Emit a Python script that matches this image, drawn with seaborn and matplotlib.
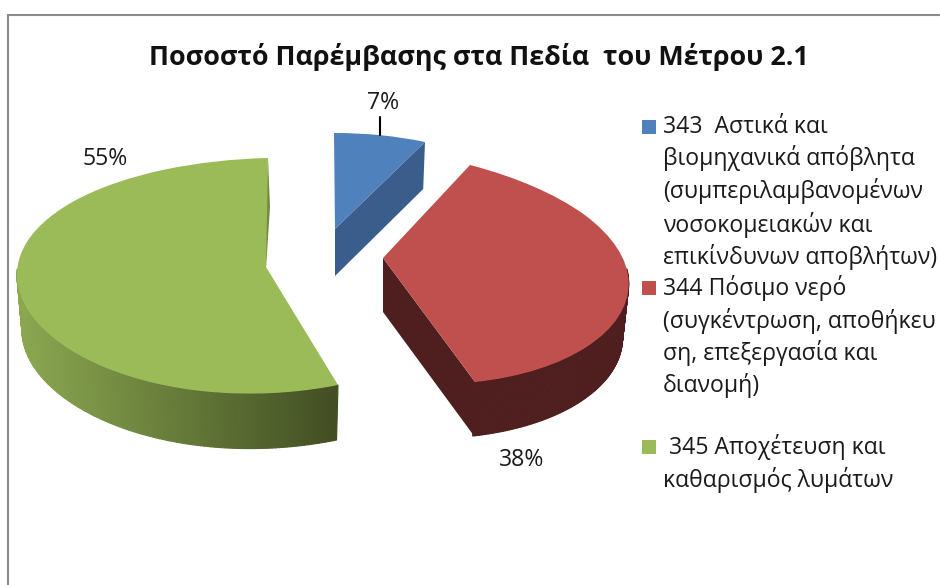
import numpy as np
import matplotlib
matplotlib.use("Agg")
import matplotlib.pyplot as plt
import matplotlib.transforms as mtransforms
from matplotlib.collections import PolyCollection
from matplotlib.colors import to_rgb
import seaborn as sns

# ---- data ----
title = "Ποσοστό Παρέμβασης στα Πεδία  του Μέτρου 2.1"
codes = ["343", "344", "345"]
shares = [7, 38, 55]
legend_lines = [
    ["343  Αστικά και", "βιομηχανικά απόβλητα", "(συμπεριλαμβανομένων",
     "νοσοκομειακών και", "επικίνδυνων αποβλήτων)"],
    ["344 Πόσιμο νερό", "(συγκέντρωση, αποθήκευ", "ση, επεξεργασία και", "διανομή)"],
    [" 345 Αποχέτευση και", "καθαρισμός λυμάτων"],
]
colors = ["#4F81BD", "#C0504D", "#9BBB59"]

# ---- style ----
sns.set_theme(style="white")
FONT = "Open Sans"
plt.rcParams["font.family"] = [FONT, "DejaVu Sans"]
palette = sns.color_palette(colors)
TXT = "#1a1a1a"

# ---- projection of the unit pie onto the tilted, exploded picture ----
class Warp(mtransforms.Transform):
    input_dims = output_dims = 2
    is_separable = False
    has_inverse = False

    def __init__(self, apex, cx, cy):
        super().__init__()
        self.apex, self.cx, self.cy = apex, cx, cy

    def transform_non_affine(self, v):
        v = np.asarray(v, float)
        f = np.column_stack([v[:, 0], v[:, 1], v[:, 1] ** 2])
        return np.column_stack([self.apex[0] + f @ self.cx, self.apex[1] + f @ self.cy])


def fit_warp(apex, anchors):
    a = np.array([[np.cos(np.radians(t)), np.sin(np.radians(t))] for t, _ in anchors])
    p = np.array([q for _, q in anchors], float) - np.array(apex, float)
    if len(anchors) == 3:
        f = np.column_stack([a[:, 0], a[:, 1], a[:, 1] ** 2])
        cx, cy = np.linalg.solve(f, p[:, 0]), np.linalg.solve(f, p[:, 1])
    else:
        f = a
        cx, cy = np.append(np.linalg.solve(f, p[:, 0]), 0), np.append(np.linalg.solve(f, p[:, 1]), 0)
    return Warp(apex, cx, cy)


fig, ax = plt.subplots(figsize=(9.4, 5.85), dpi=100)
fig.subplots_adjust(0, 0, 1, 1)

wedges, _ = ax.pie(shares, colors=palette, startangle=90, counterclock=False, radius=1,
                   wedgeprops=dict(linewidth=0))
ax.set_aspect("auto")
ax.set_xlim(0, 940)
ax.set_ylim(585, 0)
ax.axis("off")

blue, red, green = wedges
warps = [
    fit_warp((335, 229), [(blue.theta2, (334, 133)), (blue.theta1, (425, 142))]),
    fit_warp((383, 258), [(red.theta2, (470, 165)), (0, (628, 275)), (red.theta1, (475, 382))]),
    fit_warp((266, 267), [(green.theta1, (268, 158)), (180, (17, 273)), (green.theta2, (338, 385))]),
]
for w, tr in zip(wedges, warps):
    w.set_transform(tr + ax.transData)
    w.set_zorder(5)
    w.set_clip_on(False)


def arc(tr, t):
    t = np.radians(t)
    return tr.transform(np.column_stack([np.cos(t), np.sin(t)]))


def lower(tr, pts, thick, shrink):
    pts = np.array(pts, float)
    pts[:, 0] = tr.apex[0] + (pts[:, 0] - tr.apex[0]) * shrink
    pts[:, 1] += thick
    return pts


def side(tr, t0, t1, thick, shrink, c0, c1, xrange):
    ts = np.linspace(t0, t1, 130)
    top = arc(tr, ts)
    bot = lower(tr, top, thick, shrink)
    polys, cols = [], []
    c0, c1 = np.array(to_rgb(c0)), np.array(to_rgb(c1))
    for i in range(len(ts) - 1):
        polys.append([top[i], top[i + 1], bot[i + 1], bot[i]])
        u = np.clip((top[i][0] - xrange[0]) / (xrange[1] - xrange[0]), 0, 1)
        cols.append(c0 + (c1 - c0) * u)
    ax.add_collection(PolyCollection(polys, facecolors=cols, edgecolors=cols, linewidths=0.8, zorder=3))


def cut_face(tr, t, thick, shrink, color):
    a = np.array([tr.apex], float)
    p = arc(tr, [t])
    pts = np.vstack([a, p, lower(tr, p, thick, shrink), lower(tr, a, thick, shrink)])
    ax.fill(pts[:, 0], pts[:, 1], color=color, lw=0, zorder=4)


# blue slice: only the cut face shows
cut_face(warps[0], blue.theta1, 47, 0.98, "#3B5D8B")
# red slice: cut face and rim
cut_face(warps[1], red.theta1, 54, 0.99, "#4E1F1E")
side(warps[1], red.theta1, 3, 54, 0.975, "#4E1F1E", "#4E1F1E", (383, 628))
# green slice: rim with a light-to-dark run and a thin sliver by the apex
side(warps[2], -182, green.theta2, 55, 0.98, "#8BA851", "#414D22", (17, 339))
ax.fill([268, 270, 266, 263], [158, 207, 268, 264], color="#708C3E", lw=0, zorder=4)

# frame of the chart area
ax.plot([8, 8, 940], [585, 14.5, 14.5], color="#8c8c8c", lw=1.5, solid_joinstyle="miter", zorder=1)

# title
ax.text(479, 57, title, ha="center", va="center", fontsize=19.4, fontweight="bold", color="#111111")

# data labels
label_pos = [(383, 103), (522, 460), (105, 159)]
for v, (x, y) in zip(shares, label_pos):
    ax.text(x, y, f"{v}%", ha="center", va="center", fontsize=16.6, color=TXT)
ax.plot([380, 380], [117, 135], color="black", lw=1.5, zorder=6)

# legend
line_y = [[127, 158, 191, 225, 257], [288, 321, 353, 386], [447, 480]]
marker_y = [127, 288, 447]
for lines, ys, my, col in zip(legend_lines, line_y, marker_y, palette):
    ax.scatter([649], [my], marker="s", s=98, color=col, linewidths=0, zorder=6)
    for s, y in zip(lines, ys):
        ax.text(663, y, s, ha="left", va="center", fontsize=16.6, color=TXT, clip_on=True)

fig.savefig("out.png", dpi=100, facecolor="white")
